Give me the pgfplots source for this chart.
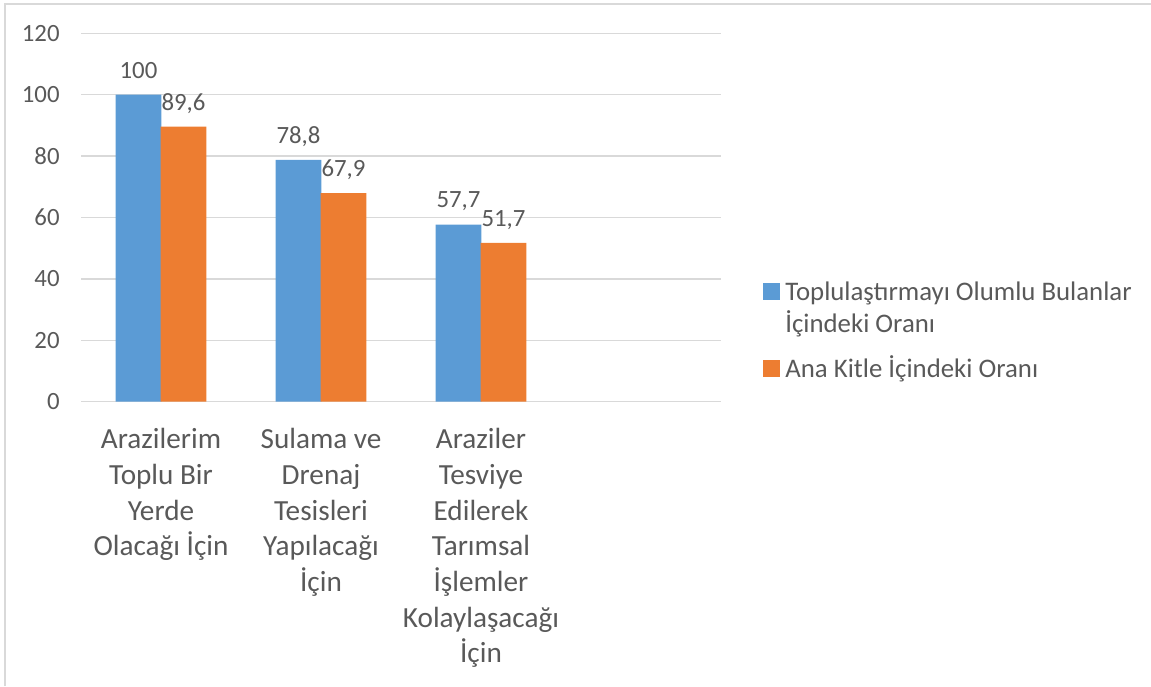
\documentclass[border=0pt]{standalone}
\usepackage{fontspec}
\setmainfont{Carlito}
\usepackage{pgfplots}
\pgfplotsset{compat=1.18}
\definecolor{cblue}{RGB}{91,155,213}
\definecolor{corange}{RGB}{237,125,49}
\definecolor{txt}{RGB}{89,89,89}
\definecolor{gridc}{RGB}{217,217,217}
\begin{document}
\begin{tikzpicture}
\begin{axis}[
  at={(40.5pt,142.15pt)}, anchor=south west,
  scale only axis, width=320pt, height=184.2pt,
  ybar=0pt, bar width=0.285,
  xmin=-0.5, xmax=3.5, ymin=0, ymax=120,
  ytick={0,20,...,120},
  xtick={0,1,2},
  xticklabels={{Arazilerim\\Toplu Bir\\Yerde\\Olacağı İçin},{Sulama ve\\Drenaj\\Tesisleri\\Yapılacağı\\İçin},{Araziler\\Tesviye\\Edilerek\\Tarımsal\\İşlemler\\Kolaylaşacağı\\İçin}},
  xticklabel style={align=center, font=\fontsize{14.6}{17.85}\selectfont, text=txt, anchor=north, inner sep=0pt, yshift=-13.2pt},
  yticklabel style={font=\fontsize{12.4}{14}\selectfont, text=txt, anchor=east, inner sep=0pt, xshift=-10.5pt},
  /pgf/number format/assume math mode=true,
  axis line style={draw=none},
  major tick length=0pt,
  ymajorgrids, grid style={gridc, line width=0.75pt},
  nodes near coords={\pgfmathprintnumber[use comma, assume math mode=true]{\pgfplotspointmeta}},
  every node near coord/.append style={font=\fontsize{12.4}{14}\selectfont, text=txt, anchor=base, yshift=8.3pt, inner sep=0pt},
  legend style={at={(1.0656,0.3363)}, anchor=north west, draw=none, fill=none, inner sep=0pt, column sep=2.5pt, row sep=6.8pt,
    nodes={inner sep=0pt, text depth=, font=\fontsize{13.4}{15.85}\selectfont, text=txt}, cells={anchor=base west}},
  legend image code/.code={\fill[#1] (0pt,0pt) rectangle (8.5pt,8.5pt);},
]
\addplot[fill=cblue, draw=none, bar shift=-0.1406] coordinates {(0,100) (1,78.8) (2,57.7)};
\addplot[fill=corange, draw=none, bar shift=0.1406] coordinates {(0,89.6) (1,67.9) (2,51.7)};
\legend{{\begin{tabular}[t]{@{}l@{}}Toplulaştırmayı Olumlu Bulanlar\\İçindeki Oranı\end{tabular}},{\begin{tabular}[t]{@{}l@{}}Ana Kitle İçindeki Oranı\end{tabular}}}
\end{axis}
\draw[gridc, line width=1pt] (2.25pt,0pt) -- (2.25pt,341pt) -- (575.5pt,341pt);
\pgfresetboundingbox
\path[use as bounding box] (0pt,0pt) rectangle (575.5pt,343pt);
\end{tikzpicture}
\end{document}
